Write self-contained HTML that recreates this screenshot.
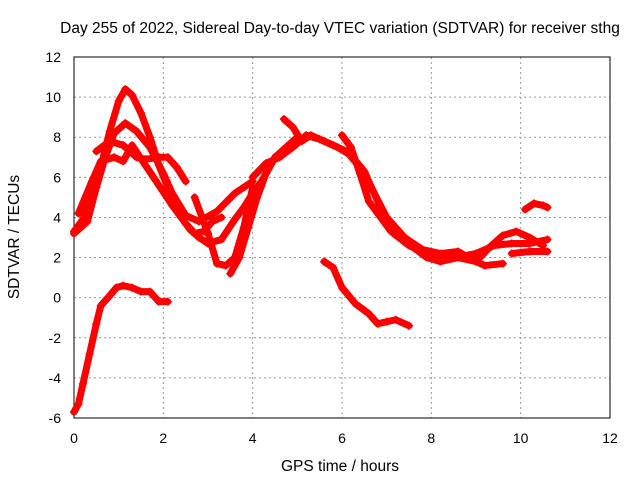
<!DOCTYPE html>
<html><head><meta charset="utf-8"><style>
body{margin:0;background:#fff}
svg{display:block;font-family:"Liberation Sans",sans-serif;font-size:14px}
</style></head><body>
<svg id="chart" width="640" height="480" viewBox="0 0 640 480">
<rect width="640" height="480" fill="#fff"/>
<g id="grid"></g>
<rect x="74" y="57" width="536" height="361" fill="none" stroke="#000" stroke-width="1"/>
<g id="ticks"></g>
<g id="series"></g>
<text x="340" y="33" text-anchor="middle" font-size="15.5">Day 255 of 2022, Sidereal Day-to-day VTEC variation (SDTVAR) for receiver sthg</text>
<text x="340" y="471" text-anchor="middle" font-size="15.5">GPS time / hours</text>
<text transform="translate(19,237) rotate(-90)" text-anchor="middle" font-size="15.5">SDTVAR / TECUs</text>
</svg>
<script>
const xTicks=[0,2,4,6,8,10,12];
const yTicks=[-6,-4,-2,0,2,4,6,8,10,12];
const s1=[[0,3.3],[0.2,3.9],[0.4,5],[0.6,6.5],[0.8,8.3],[1.0,9.8],[1.15,10.4],[1.3,10.1],[1.5,9.2],[1.7,8],[1.9,6.6],[2.1,5.5],[2.3,4.5],[2.5,3.7],[2.7,3.2],[2.9,3.3],[3.1,3.8],[3.3,4.0]];
const s2=[[0,3.2],[0.3,3.8],[0.5,5.5],[0.7,7],[0.9,8.2],[1.15,8.7],[1.4,8.3],[1.7,7.5],[2.0,6.2],[2.2,5.2],[2.5,4.1],[2.8,3.8],[3.2,4.3],[3.6,5.2],[4,5.8]];
const s3=[[0.5,7.3],[0.8,7.8],[1.1,7.6],[1.4,7.0],[1.6,6.9],[1.9,7.0],[2.1,7.0],[2.3,6.5],[2.5,5.8]];
const s4=[[0.1,4.2],[0.4,5.8],[0.6,6.8],[0.9,7.0],[1.1,6.8],[1.3,7.6],[1.6,6.6],[1.9,5.6],[2.2,4.6],[2.4,4.0],[2.6,3.4],[2.8,3.0],[3.0,2.7],[3.3,2.9],[3.6,3.9],[3.8,4.5],[4.0,5.2],[4.2,5.8],[4.5,7.0],[4.8,7.6],[5.0,8.0]];
const s5=[[2.7,5.0],[3.0,3.2],[3.2,1.7],[3.4,1.6],[3.6,2.0],[3.8,3.5],[3.9,4.5],[4.0,5.5]];
const s6=[[3.5,1.2],[3.7,2.0],[3.9,3.5],[4.1,5.0],[4.3,6.2],[4.5,7.0],[4.7,7.3]];
const s7=[[0,-5.7],[0.1,-5.3],[0.2,-4.3],[0.35,-2.8],[0.5,-1.3],[0.6,-0.4],[0.8,0.1],[0.95,0.5],[1.1,0.6],[1.3,0.5],[1.5,0.3],[1.7,0.3],[1.9,-0.2],[2.1,-0.2]];
const s8=[[4.7,8.9],[4.9,8.5],[5.1,7.8],[5.3,8.1],[5.6,7.8],[5.9,7.5],[6.2,7.1],[6.5,6.3],[6.8,4.8],[7.0,3.9],[7.3,3.1],[7.6,2.5],[7.9,2.0],[8.2,1.8],[8.6,2.0],[9.0,1.8],[9.3,2.5],[9.6,3.1],[9.9,3.3],[10.2,3.0],[10.5,2.6]];
const s9=[[4.0,6.0],[4.3,6.7],[4.6,7.0],[4.9,7.5],[5.2,8.1],[5.5,7.9],[5.8,7.6],[6.1,7.3],[6.4,6.5],[6.7,5.3],[7.0,4.0],[7.4,3.0],[7.8,2.4],[8.2,2.2],[8.6,2.3],[8.9,1.9],[9.2,1.6],[9.6,1.7]];
const s10=[[6.0,8.1],[6.2,7.5],[6.4,6.2],[6.6,4.8],[6.8,4.2],[7.1,3.3],[7.5,2.6],[8.0,2.1],[8.5,2.0],[9.0,2.2],[9.4,2.6],[9.8,2.7],[10.2,2.7],[10.6,2.9]];
const s11=[[9.8,2.2],[10.2,2.3],[10.6,2.3]];
const s12=[[10.1,4.4],[10.3,4.7],[10.5,4.6],[10.6,4.5]];
const s13=[[5.6,1.8],[5.8,1.5],[6.0,0.5],[6.3,-0.3],[6.6,-0.8],[6.8,-1.3],[7.0,-1.2],[7.2,-1.1],[7.5,-1.4]];
const allSeries=[s1,s2,s3,s4,s5,s6,s7,s8,s9,s10,s11,s12,s13];
const X=v=>74+v*(536/12), Y=v=>57+(12-v)*(361/18);
const NS='http://www.w3.org/2000/svg';
function mk(t,a,p){const e=document.createElementNS(NS,t);for(const k in a)e.setAttribute(k,a[k]);p.appendChild(e);return e;}
const grid=document.getElementById('grid'),ticks=document.getElementById('ticks'),ser=document.getElementById('series');
xTicks.forEach(t=>{
  if(t>0&&t<12){const g=mk('line',{x1:X(t),x2:X(t),y1:57,y2:418,stroke:'#999','stroke-dasharray':'2,3'},grid);
  
  }
  const l=mk('text',{x:X(t),y:443,'text-anchor':'middle'},ticks);l.textContent=t;
  
  
});
yTicks.forEach(t=>{
  if(t>-6&&t<12){const g=mk('line',{x1:74,x2:610,y1:Y(t),y2:Y(t),stroke:'#999','stroke-dasharray':'2,3'},grid);
  
  }
  const l=mk('text',{x:61,y:Y(t)+5,'text-anchor':'end'},ticks);l.textContent=t;
  
  
});
allSeries.forEach((s,i)=>{
  const g=mk('g',{},ser);
  
  
  mk('polyline',{points:s.map(p=>X(p[0])+','+Y(p[1])).join(' '),fill:'none',stroke:'#f00','stroke-width':7,'stroke-linejoin':'round','stroke-linecap':'round'},g);
  s.forEach(p=>{
    const m=mk('path',{d:`M${X(p[0])-4},${Y(p[1])}h8M${X(p[0])},${Y(p[1])-4}v8`,stroke:'#f00','stroke-width':1.5},g);
    
    
  });
});
</script>
</body></html>
